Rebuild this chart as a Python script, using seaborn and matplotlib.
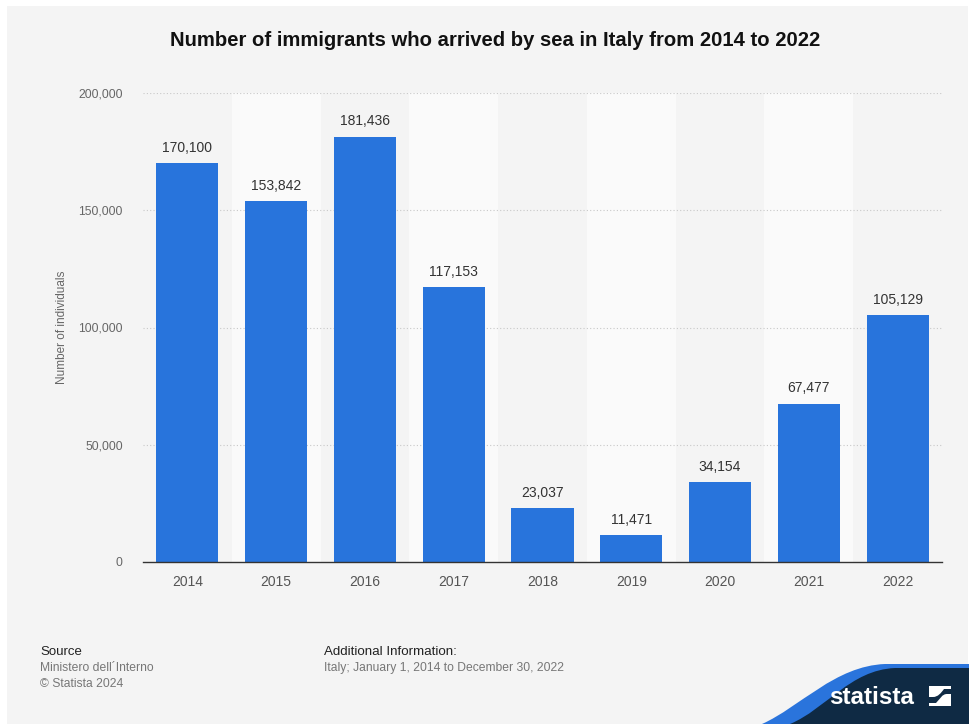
import matplotlib
matplotlib.use("Agg")
import matplotlib.pyplot as plt
import seaborn as sns
import pandas as pd
import numpy as np
from matplotlib.patches import Rectangle, PathPatch
from matplotlib.path import Path

years = ["2014", "2015", "2016", "2017", "2018", "2019", "2020", "2021", "2022"]
arrivals = [170100, 153842, 181436, 117153, 23037, 11471, 34154, 67477, 105129]
yticks = [0, 50000, 100000, 150000, 200000]

sns.set_theme(style="white")
plt.rcParams['font.family'] = ['Liberation Sans', 'DejaVu Sans']

BG = "#f4f4f4"
BAR = "#2874dc"
df = pd.DataFrame({"year": years, "arrivals": arrivals})

W, H = 969, 724
def P(x, y):
    return (x/W, 1-y/H)

fig = plt.figure(figsize=(9.69, 7.24), dpi=100, facecolor="white")
fig.patches.append(Rectangle(P(7, 724), (968-7)/W, (724-6)/H, transform=fig.transFigure,
                             facecolor=BG, edgecolor="none", zorder=-10))

ax = fig.add_axes([143/969, 1-562/724, (942-143)/969, (562-93)/724])
ax.set_facecolor(BG)

# alternating bands
for i in range(len(years)):
    if i % 2 == 1:
        ax.axvspan(i-0.5, i+0.5, color="#fafafa", zorder=0, lw=0)

sns.barplot(data=df, x="year", y="arrivals", color=BAR, width=0.7, ax=ax,
            saturation=1, zorder=3, edgecolor="none")

ax.set_xlim(-0.5, len(years)-0.5)
ax.set_ylim(0, 200000)
ax.set_yticks(yticks)
ax.set_yticklabels([f"{v:,}" for v in yticks], fontsize=8.7, color="#666666")
ax.tick_params(axis="y", length=0, pad=14.5)
ax.tick_params(axis="x", length=0, pad=9, labelsize=10, labelcolor="#555555")
for v in yticks[1:]:
    ax.axhline(v, color="#c8c8c8", lw=0.8, ls=(0, (1, 2)), zorder=1)
for s in ["top", "right", "left"]:
    ax.spines[s].set_visible(False)
ax.spines["bottom"].set_color("#333333")
ax.spines["bottom"].set_linewidth(1.0)
ax.spines["bottom"].set_zorder(5)

for c in ax.containers:
    ax.bar_label(c, labels=[f"{v:,}" for v in arrivals], padding=6, fontsize=10, color="#333333")

ax.set_xlabel("")
ax.set_ylabel("")
fig.text(62/969, 1-327/724, "Number of individuals", rotation=90, fontsize=8.5,
         color="#666666", ha="center", va="center")

fig.text(495/969, 1-40/724, "Number of immigrants who arrived by sea in Italy from 2014 to 2022",
         ha="center", va="center", fontsize=14.6, fontweight="bold", color="#111111")

fig.text(40/969, 1-652/724, "Source", fontsize=9.5, color="#222222", va="center")
fig.text(40/969, 1-668/724, "Ministero dell´Interno", fontsize=8.7, color="#777777", va="center")
fig.text(40/969, 1-684/724, "© Statista 2024", fontsize=8.7, color="#777777", va="center")
fig.text(324/969, 1-652/724, "Additional Information:", fontsize=9.6, color="#222222", va="center")
fig.text(324/969, 1-668/724, "Italy; January 1, 2014 to December 30, 2022", fontsize=8.7, color="#777777", va="center")

# footer ribbon
codes = [Path.MOVETO, Path.CURVE4, Path.CURVE4, Path.CURVE4, Path.LINETO, Path.LINETO, Path.CLOSEPOLY]
verts_blue = [P(762, 724), P(800, 707), P(835, 666), P(885, 664), P(969, 664), P(969, 724), P(762, 724)]
fig.patches.append(PathPatch(Path(verts_blue, codes), transform=fig.transFigure, facecolor="#2a74dc", edgecolor="none"))
verts_dark = [P(790, 724), P(826, 709), P(850, 670), P(895, 668), P(969, 668), P(969, 724), P(790, 724)]
fig.patches.append(PathPatch(Path(verts_dark, codes), transform=fig.transFigure, facecolor="#0f2a44", edgecolor="none"))
fig.text(872/969, 1-697/724, "statista", fontsize=17.5, fontweight="bold", color="white", ha="center", va="center")
# logo icon: two white pieces separated by a curved band
top_piece = [P(929, 686), P(951, 686), P(951, 689), P(944, 689), P(941, 693), P(938, 697),
             P(933, 697), P(929, 697), P(929, 686)]
tp_codes = [Path.MOVETO, Path.LINETO, Path.LINETO, Path.LINETO, Path.CURVE4, Path.CURVE4, Path.CURVE4,
            Path.LINETO, Path.CLOSEPOLY]
fig.patches.append(PathPatch(Path(top_piece, tp_codes), transform=fig.transFigure, facecolor="white", edgecolor="none"))
bot_piece = [P(951, 706), P(929, 706), P(929, 703), P(936, 703), P(940, 699), P(942, 694),
             P(947, 694), P(951, 694), P(951, 706)]
fig.patches.append(PathPatch(Path(bot_piece, tp_codes), transform=fig.transFigure, facecolor="white", edgecolor="none"))

fig.savefig("out.png", dpi=100, facecolor="white")
